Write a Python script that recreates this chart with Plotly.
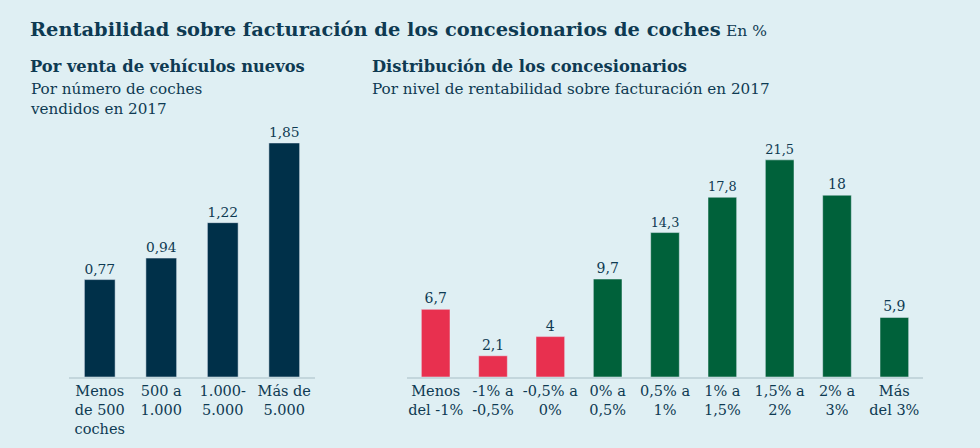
import plotly.graph_objects as go

# datos
tramos_ventas = ["Menos<br>de 500<br>coches", "500 a<br>1.000", "1.000-<br>5.000", "Más de<br>5.000"]
rentab_ventas = [0.77, 0.94, 1.22, 1.85]

niveles = ["Menos<br>del -1%", "-1% a<br>-0,5%", "-0,5% a<br>0%", "0% a<br>0,5%", "0,5% a<br>1%",
           "1% a<br>1,5%", "1,5% a<br>2%", "2% a<br>3%", "Más<br>del 3%"]
pct_concesionarios = [6.7, 2.1, 4, 9.7, 14.3, 17.8, 21.5, 18, 5.9]

FONDO = "#dfeff3"
AZUL = "#003049"
ROJO = "#e8304f"
VERDE = "#00613a"
TEXTO = "#0e3a52"
SERIF = "DejaVu Serif"
W, H = 980, 448


def fmt(v):
    return ("%g" % v).replace(".", ",")


colores_dist = [ROJO if i < 3 else VERDE for i in range(len(niveles))]

fig = go.Figure()
fig.add_trace(go.Bar(
    x=tramos_ventas, y=rentab_ventas, marker_color=AZUL,
    text=[fmt(v) for v in rentab_ventas], textposition="outside",
    textfont=dict(family=SERIF, size=14, color=TEXTO),
    cliponaxis=False, xaxis="x", yaxis="y", hoverinfo="skip"))
fig.add_trace(go.Bar(
    x=niveles, y=pct_concesionarios, marker_color=colores_dist,
    text=[fmt(v) for v in pct_concesionarios], textposition="outside",
    textfont=dict(family=SERIF, size=14, color=TEXTO),
    cliponaxis=False, xaxis="x2", yaxis="y2", hoverinfo="skip"))

y0 = (H - 377) / H
y1 = (H - 100) / H
ejex = dict(showgrid=False, showline=True, linecolor="#c3d6dc", linewidth=2,
            ticks="", tickfont=dict(family=SERIF, size=14.5, color=TEXTO),
            fixedrange=True)
ejey = dict(visible=False, showgrid=False, zeroline=False, fixedrange=True)

fig.update_layout(
    width=W, height=H,
    paper_bgcolor=FONDO, plot_bgcolor=FONDO,
    margin=dict(l=0, r=0, t=0, b=0),
    showlegend=False,
    bargap=0.5,
    xaxis=dict(ejex, domain=[69 / W, 315 / W], anchor="y"),
    yaxis=dict(ejey, domain=[y0, y1], range=[0, 277 / 126.5], anchor="x"),
    xaxis2=dict(ejex, domain=[407 / W, 923 / W], anchor="y2"),
    yaxis2=dict(ejey, domain=[y0, y1], range=[0, 277 / 10.1], anchor="x2"),
)

textos = [
    (28, 30, "<b>Rentabilidad sobre facturación de los concesionarios de coches</b>", 19.4),
    (28, 66, "<b>Por venta de vehículos nuevos</b>", 16.3),
    (28, 99, "Por número de coches<br>vendidos en 2017", 15.2),
    (370, 66, "<b>Distribución de los concesionarios</b>", 16.3),
    (370, 89, "Por nivel de rentabilidad sobre facturación en 2017", 15.2),
]
for x, y, t, s in textos:
    fig.add_annotation(x=x / W, y=(H - y) / H, xref="paper", yref="paper",
                       xanchor="left", yanchor="middle", showarrow=False, align="left",
                       text=t, font=dict(family=SERIF, size=s, color=TEXTO))
fig.add_annotation(x=724 / W, y=(H - 31) / H, xref="paper", yref="paper",
                   xanchor="left", yanchor="middle", showarrow=False,
                   text="En %", font=dict(family=SERIF, size=15.5, color=TEXTO))

fig.write_html("out.html", config={"displayModeBar": False},
               post_script="document.body.style.margin='0';document.body.style.background='%s';" % FONDO)
